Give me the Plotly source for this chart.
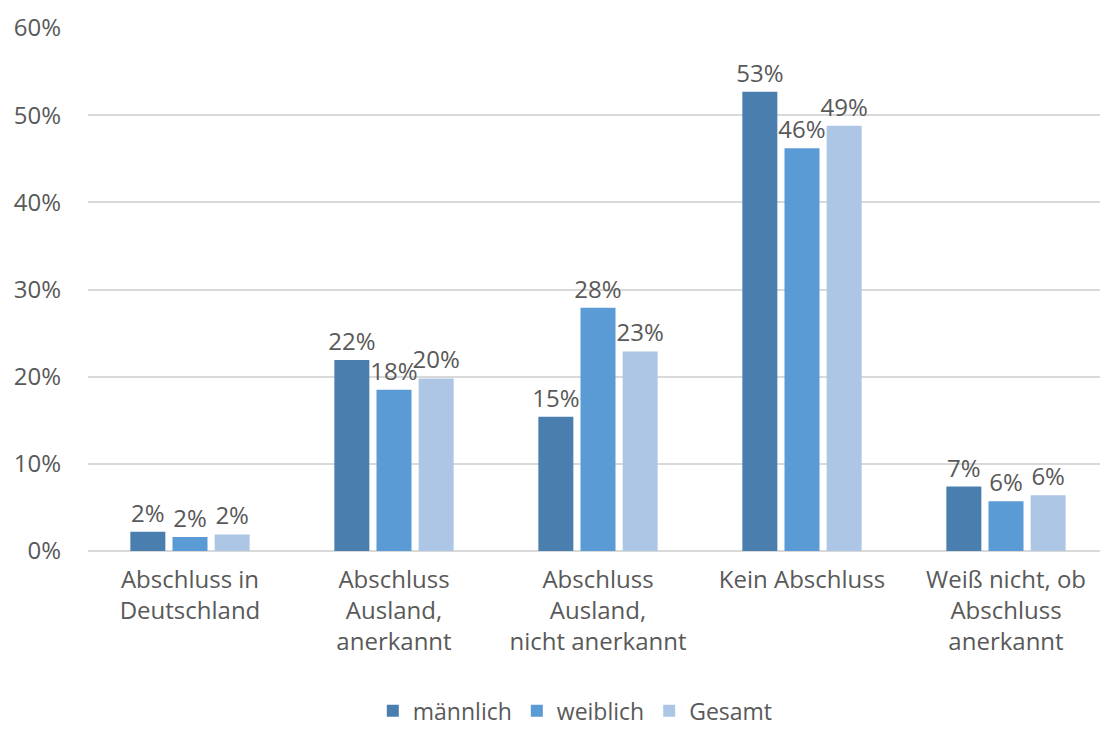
import plotly.graph_objects as go

categories = [
    "Abschluss in<br>Deutschland",
    "Abschluss<br>Ausland,<br>anerkannt",
    "Abschluss<br>Ausland,<br>nicht anerkannt",
    "Kein Abschluss",
    "Weiß nicht, ob<br>Abschluss<br>anerkannt",
]
maennlich = [0.022, 0.219, 0.154, 0.527, 0.074]
weiblich = [0.016, 0.185, 0.279, 0.462, 0.057]
gesamt = [0.019, 0.198, 0.229, 0.488, 0.064]

series = [
    ("männlich", maennlich, "#4A7EAF"),
    ("weiblich", weiblich, "#5B9BD5"),
    ("Gesamt", gesamt, "#ADC6E5"),
]

FONT = "Open Sans"
GREY = "#595959"
SIZE = 24

fig = go.Figure()
for name, vals, col in series:
    fig.add_trace(go.Bar(
        x=categories,
        y=vals,
        name=name,
        marker=dict(color=col, line=dict(width=0)),
        text=[f"{v:.0%}" for v in vals],
        textposition="outside",
        constraintext="none",
        cliponaxis=False,
        textfont=dict(family=FONT, size=SIZE, color=GREY),
    ))

# page body adds 8px margin, so the plot margins are shifted by that
fig.update_layout(
    width=1108,
    height=729,
    barmode="group",
    bargap=0.38,
    bargroupgap=0.17,
    plot_bgcolor="white",
    paper_bgcolor="white",
    font=dict(family=FONT, size=SIZE, color=GREY),
    margin=dict(l=80, r=8, t=20, b=186, autoexpand=False),
    showlegend=True,
    legend=dict(
        orientation="h",
        xref="container",
        xanchor="center",
        x=0.512,
        yref="container",
        yanchor="middle",
        y=0.036,
        font=dict(family=FONT, size=23, color=GREY),
        itemwidth=30,
        traceorder="normal",
    ),
)
fig.update_yaxes(
    range=[0, 0.6],
    dtick=0.1,
    tickformat=".0%",
    gridcolor="#D9D9D9",
    gridwidth=1.5,
    zeroline=True,
    zerolinecolor="#D9D9D9",
    zerolinewidth=1.5,
    ticklabelstandoff=26,
    tickfont=dict(family=FONT, size=SIZE, color=GREY),
)
fig.update_xaxes(
    tickfont=dict(family=FONT, size=SIZE, color=GREY),
    ticklabelstandoff=12,
)

fig.write_html("out.html")
